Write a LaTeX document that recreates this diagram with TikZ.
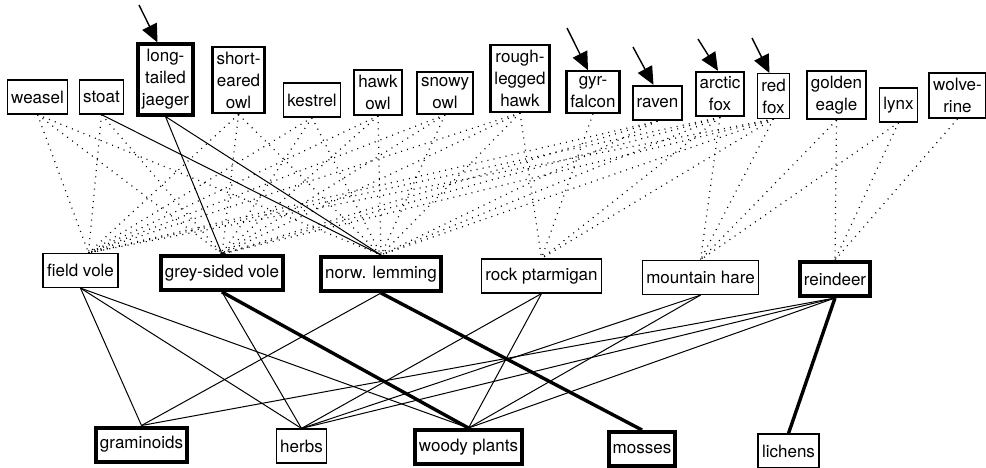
\documentclass[tikz,border=0pt]{standalone}
\usepackage{fontspec}
\setmainfont{TeX Gyre Heros}
\usetikzlibrary{arrows.meta}

\tikzset{
  box/.style={draw, line width=1.2pt, align=center, inner xsep=4pt, inner ysep=5pt,
    minimum height=34pt, font=\fontsize{17}{22}\selectfont},
  midbox/.style={box, line width=2.2pt},
  heavybox/.style={box, line width=4pt},
  feeds/.style={line width=1.2pt, dash pattern=on 1pt off 5.2pt},
  eats/.style={line width=1pt},
  eatsbold/.style={line width=3.4pt},
  arr/.style={line width=1.4pt, -{Triangle[length=18pt,width=16pt]}},
}

\begin{document}
\begin{tikzpicture}[x=1pt, y=-1pt]
    \useasboundingbox (0,0) rectangle (986,467);

    % predators
    \node [box] (weasel) at (37.5,97) {weasel};
    \node [box] (stoat) at (101.5,97) {stoat};
    \node [heavybox] (jaeger) at (165.5,79.5) {long-\\tailed\\jaeger};
    \node [midbox] (seowl) at (238.5,80) {short-\\eared\\owl};
    \node [box] (kestrel) at (312,100) {kestrel};
    \node [midbox] (hawkowl) at (378,92.5) {hawk\\owl};
    \node [midbox] (snowyowl) at (445,93) {snowy\\owl};
    \node [midbox] (rlhawk) at (520,78.5) {rough-\\legged\\hawk};
    \node [midbox] (gyr) at (593,92) {gyr-\\falcon};
    \node [midbox] (raven) at (657.5,103) {raven};
    \node [midbox] (afox) at (720,94) {arctic\\fox};
    \node [box] (rfox) at (773.5,96) {red\\fox};
    \node [midbox] (eagle) at (836.5,95) {golden\\eagle};
    \node [box] (lynx) at (898.5,105) {lynx};
    \node [midbox] (wolverine) at (957.5,95.5) {wolve-\\rine};

    % herbivores
    \node [box] (fvole) at (80.5,270.5) {field vole};
    \node [heavybox] (gsvole) at (222,273) {grey-sided vole};
    \node [heavybox] (lemming) at (381,274) {norw. lemming};
    \node [box] (ptarmigan) at (541.5,276) {rock ptarmigan};
    \node [box] (hare) at (700.5,277.5) {mountain hare};
    \node [heavybox] (reindeer) at (835,279) {reindeer};

    % plants
    \node [heavybox] (gram) at (141.5,444.5) {graminoids};
    \node [box] (herbs) at (301.5,446) {herbs};
    \node [heavybox] (woody) at (468.5,447) {woody plants};
    \node [heavybox] (mosses) at (642,449) {mosses};
    \node [box] (lichens) at (788.5,451) {lichens};

    % arrows from outside
    \coordinate (a1) at (139,5);
    \coordinate (a2) at (567,28);
    \coordinate (a3) at (633,47);
    \coordinate (a4) at (698,39);
    \coordinate (a5) at (752,38);
    \draw [arr] (a1) -- ([xshift=-8pt]jaeger.north);
    \draw [arr] (a2) -- ([xshift=-5pt]gyr.north);
    \draw [arr] (a3) -- ([xshift=-4pt]raven.north);
    \draw [arr] (a4) -- ([xshift=-2pt]afox.north);
    \draw [arr] (a5) -- ([xshift=-4pt]rfox.north);

    % predator - prey
    \foreach \p in {weasel, stoat, seowl, kestrel, hawkowl, snowyowl, rlhawk, raven, afox, rfox}
        \draw [feeds] (\p.south) -- ([xshift=8pt]fvole.north);
    \foreach \p in {weasel, stoat, seowl, kestrel, hawkowl, snowyowl, rlhawk, raven, afox, rfox}
        \draw [feeds] (\p.south) -- (gsvole.north);
    \foreach \p in {weasel, seowl, kestrel, hawkowl, snowyowl, rlhawk, raven, afox, rfox}
        \draw [feeds] (\p.south) -- (lemming.north);
    \foreach \p in {rlhawk, gyr, afox, rfox}
        \draw [feeds] (\p.south) -- (ptarmigan.north);
    \foreach \p in {afox, rfox, eagle, lynx}
        \draw [feeds] (\p.south) -- (hare.north);
    \foreach \p in {eagle, lynx, wolverine}
        \draw [feeds] (\p.south) -- (reindeer.north);
    \draw [eats] (stoat.south) -- (lemming.north);
    \draw [eats] (jaeger.south) -- (gsvole.north);
    \draw [eats] (jaeger.south) -- (lemming.north);

    % herbivore - plant
    \foreach \h/\f in {fvole/gram, fvole/herbs, fvole/woody, gsvole/herbs, lemming/gram,
        ptarmigan/herbs, ptarmigan/woody, hare/herbs, hare/woody,
        reindeer/gram, reindeer/herbs, reindeer/woody}
        \draw [eats] (\h.south) -- (\f.north);
    \draw [eatsbold] (gsvole.south) -- (woody.north);
    \draw [eatsbold] (lemming.south) -- (mosses.north);
    \draw [eatsbold] (reindeer.south) -- (lichens.north);
\end{tikzpicture}
\end{document}
